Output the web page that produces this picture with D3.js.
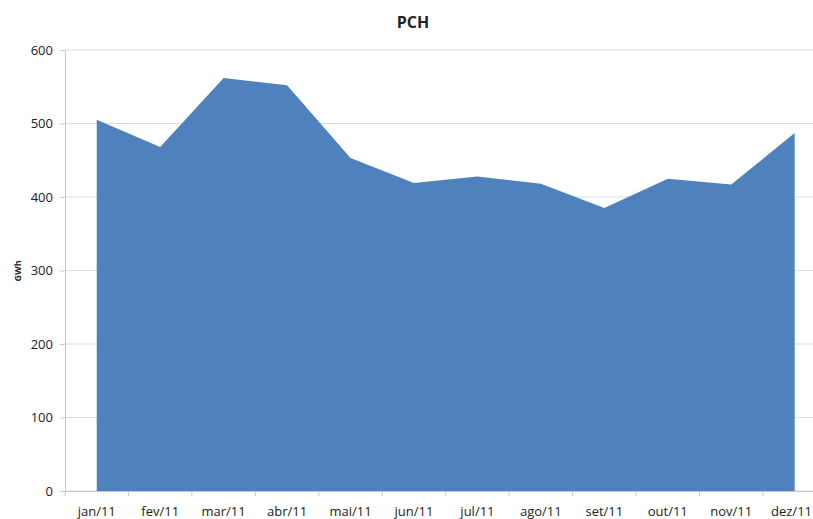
<!DOCTYPE html>
<html>
<head>
<meta charset="utf-8">
<script src="https://cdn.jsdelivr.net/npm/d3@7"></script>
<style>
  body { margin: 0; background: #fff; }
  svg text { font-family: "Open Sans", "Noto Sans", sans-serif; fill: #222; }
</style>
</head>
<body>
<svg id="chart" width="813" height="519"></svg>
<script>
// chart data
const months = ['jan/11', 'fev/11', 'mar/11', 'abr/11', 'mai/11', 'jun/11',
  'jul/11', 'ago/11', 'set/11', 'out/11', 'nov/11', 'dez/11'];
const gwh = [505, 468, 562, 552, 453, 419, 428, 418, 385, 425, 417, 487];
const yTicks = [0, 100, 200, 300, 400, 500, 600];

const svg = d3.select('#chart');
const plotLeft = 65, plotTop = 50, plotBottom = 491;
const bandW = 63.45;

// category axis runs past the right edge, as in the original
const x = d3.scaleBand()
  .domain(months)
  .range([plotLeft, plotLeft + bandW * months.length]);

const y = d3.scaleLinear().domain([0, 600]).range([plotBottom, plotTop]);

// gridlines
svg.append('g')
  .selectAll('line')
  .data(yTicks)
  .join('line')
  .attr('x1', plotLeft)
  .attr('x2', 813)
  .attr('y1', d => y(d))
  .attr('y2', d => y(d))
  .attr('stroke', '#d9dde8')
  .attr('stroke-width', 1);

// area
const area = d3.area()
  .x((d, i) => x(months[i]) + x.bandwidth() / 2)
  .y0(y(0))
  .y1(d => y(d));

svg.append('path')
  .datum(gwh)
  .attr('d', area)
  .attr('fill', '#4f81bd');

// y axis
const yAxis = svg.append('g')
  .attr('transform', `translate(${plotLeft},0)`)
  .call(d3.axisLeft(y).tickValues(yTicks).tickSize(5).tickPadding(7));
yAxis.select('.domain').attr('stroke', '#c8c8c8');
yAxis.selectAll('.tick line').attr('stroke', '#c8c8c8');
yAxis.selectAll('.tick text').style('font-size', '13px');

// x axis
const xAxis = svg.append('g')
  .attr('transform', `translate(0,${plotBottom})`)
  .call(d3.axisBottom(x).tickSize(0).tickPadding(16));
xAxis.select('.domain').attr('stroke', '#c8c8c8');
xAxis.selectAll('.tick text').style('font-size', '13px');
// keep the last label inside the window
xAxis.selectAll('.tick text')
  .filter(d => d === months[months.length - 1])
  .attr('text-anchor', 'end')
  .attr('x', 813 - (x(months[months.length - 1]) + x.bandwidth() / 2) - 1);

// tick marks between categories
svg.append('g')
  .selectAll('line')
  .data(months)
  .join('line')
  .attr('x1', d => x(d))
  .attr('x2', d => x(d))
  .attr('y1', plotBottom)
  .attr('y2', plotBottom + 5)
  .attr('stroke', '#c8c8c8');

// title
svg.append('text')
  .attr('x', 413)
  .attr('y', 28)
  .attr('text-anchor', 'middle')
  .style('font-size', '16px')
  .style('font-weight', 'bold')
  .text('PCH');

// y label
svg.append('text')
  .attr('transform', 'translate(21,271) rotate(-90)')
  .attr('text-anchor', 'middle')
  .style('font-size', '9px')
  .style('font-weight', 'bold')
  .text('GWh');
</script>
</body>
</html>
